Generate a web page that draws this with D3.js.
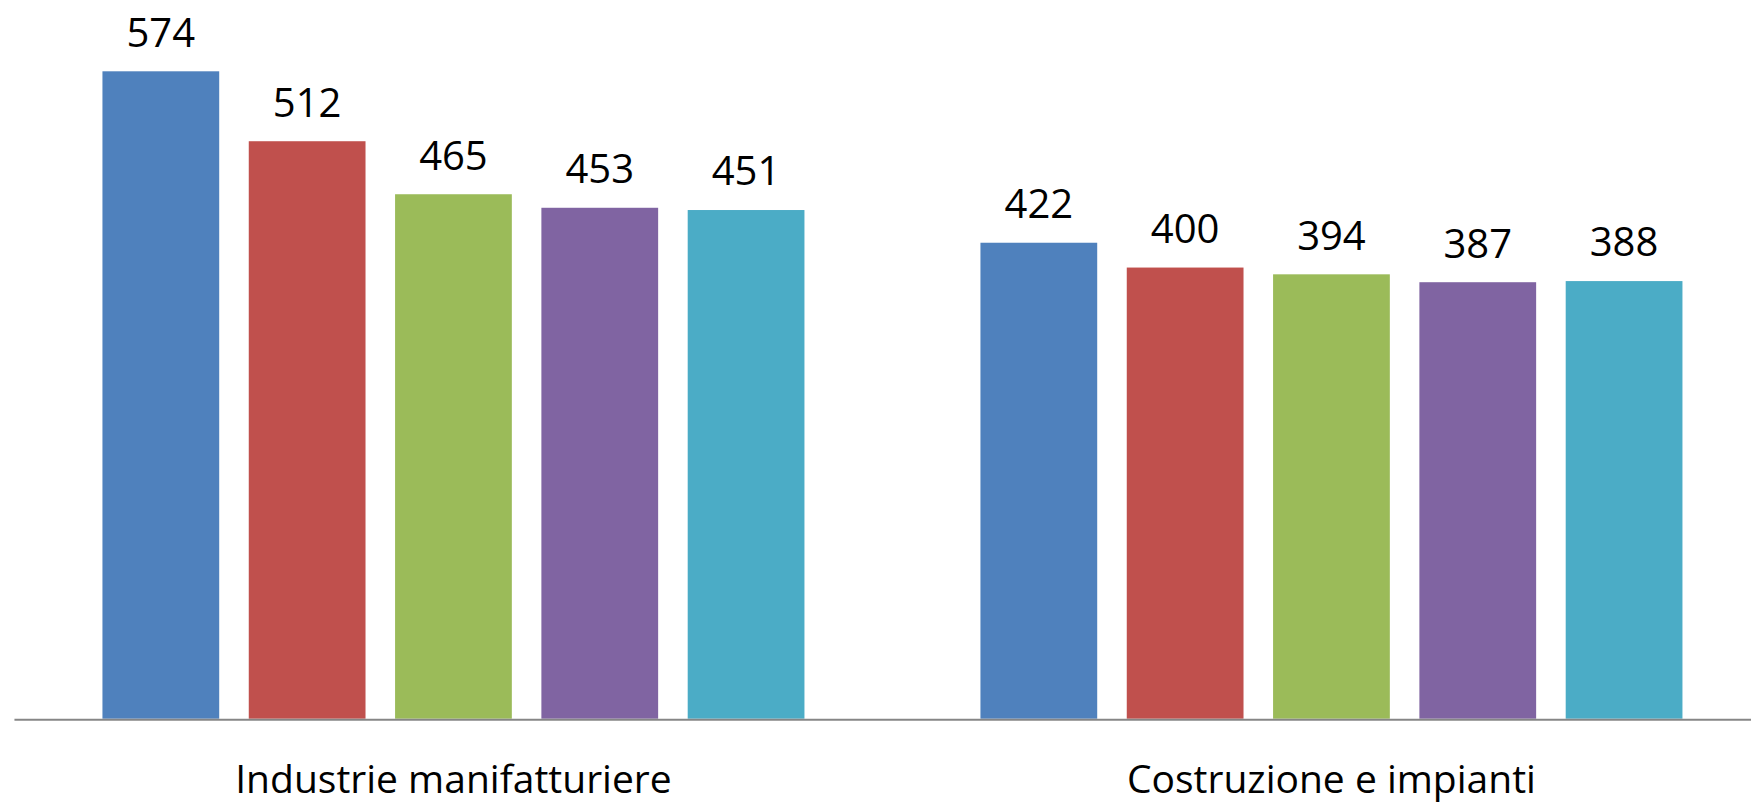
<!DOCTYPE html>
<html>
<head>
<meta charset="utf-8">
<script src="https://cdn.jsdelivr.net/npm/d3@7"></script>
<style>
  html, body { margin: 0; padding: 0; background: #fff; }
  svg { display: block; }
  text { font-family: "Open Sans", "Noto Sans", sans-serif; fill: #000; }
</style>
</head>
<body>
<svg id="chart" width="1751" height="803"></svg>
<script>
const categories = ["Industrie manifatturiere", "Costruzione e impianti"];
const seriesNames = ["S1", "S2", "S3", "S4", "S5"];
const seriesColors = ["#4F81BD", "#C0504D", "#9BBB59", "#8064A2", "#4BACC6"];
const valuesIndustrie = [574, 512, 465, 453, 451];
const valuesCostruzione = [422, 400, 394, 387, 388];
const categoryValues = [valuesIndustrie, valuesCostruzione];

const svg = d3.select("#chart");
const W = 1751, H = 803;
const baseY = 718.7;

const x0 = d3.scaleBand().domain(categories).range([14.45, 1770.45]).padding(0);
const groupW = 702;
const x1 = d3.scaleBand().domain(seriesNames)
  .range([(x0.bandwidth() - groupW) / 2, (x0.bandwidth() + groupW) / 2])
  .paddingInner(0.202).paddingOuter(0);
const y = d3.scaleLinear().domain([0, 574]).range([baseY, 71.3]);

const data = [];
categories.forEach((c, ci) => {
  seriesNames.forEach((s, si) => {
    data.push({ cat: c, s: s, color: seriesColors[si], v: categoryValues[ci][si] });
  });
});

const g = svg.append("g");
g.selectAll("rect.bar").data(data).join("rect")
  .attr("class", "bar")
  .attr("x", d => x0(d.cat) + x1(d.s))
  .attr("width", x1.bandwidth())
  .attr("y", d => y(d.v))
  .attr("height", d => baseY - y(d.v))
  .attr("fill", d => d.color);

g.selectAll("text.val").data(data).join("text")
  .attr("class", "val")
  .attr("x", d => x0(d.cat) + x1(d.s) + x1.bandwidth() / 2)
  .attr("y", d => y(d.v) - 24.6)
  .attr("text-anchor", "middle")
  .style("font-size", "40px")
  .text(d => d.v);

// x axis
const xAxis = d3.axisBottom(x0).tickSize(0).tickPadding(0);
const ax = svg.append("g").attr("transform", `translate(0,${baseY + 1})`).call(xAxis);
ax.select(".domain").attr("stroke", "#868686").attr("stroke-width", 2).attr("d", `M${x0.range()[0]},0H${x0.range()[1]}`);
ax.selectAll(".tick text")
  .attr("y", 73)
  .attr("dy", 0)
  .style("font-size", "39px")
  .style("font-family", "'Open Sans', 'Noto Sans', sans-serif")
  .attr("fill", "#000");
</script>
</body>
</html>
